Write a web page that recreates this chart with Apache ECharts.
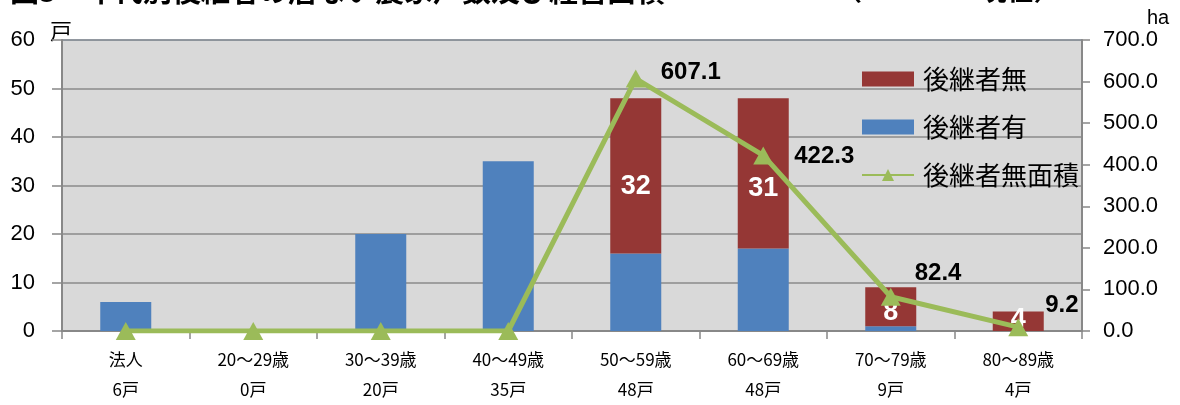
<!DOCTYPE html>
<html><head><meta charset="utf-8">
<script src="https://cdn.jsdelivr.net/npm/echarts@6/dist/echarts.min.js"></script>
<style>html,body{margin:0;padding:0;background:#fff}#c{width:1180px;height:405px}</style>
</head><body><div id="c"></div>
<script>
var categories = ['法人','20～29歳','30～39歳','40～49歳','50～59歳','60～69歳','70～79歳','80～89歳'];
var totalLabels = ['6戸','0戸','20戸','35戸','48戸','48戸','9戸','4戸'];
var withSuccessor = [6, 0, 20, 35, 16, 17, 1, 0];
var withoutSuccessor = [0, 0, 0, 0, 32, 31, 8, 4];
var areaWithout = [0, 0, 0, 0, 607.1, 422.3, 82.4, 9.2];
var leftTicks = [0, 60, 10];
var rightTicks = [0, 700, 100];

// label placement tweaks (style only)
var areaLabelOffsets = [[0,0],[0,0],[0,0],[0,0],[15,-6],[21,1],[14,-23],[17,-22]];
var barLabelOffsets = [[0,0],[0,0],[0,0],[0,0],[0,11],[0,15],[0,6],[0,-2]];

var FONT = '"Noto Sans CJK JP","Noto Sans",sans-serif';
var NUMFONT = '"Liberation Sans",sans-serif';
var chart = echarts.init(document.getElementById('c'));
chart.setOption({
  animation: false,
  textStyle: {fontFamily: FONT},
  grid: {left: 62, right: 98, top: 40, bottom: 72, show: true, backgroundColor: '#d9d9d9', borderWidth: 1, borderColor: '#5b8bc6'},
  legend: {
    orient: 'vertical', right: 96, top: 61, itemGap: 22, itemWidth: 52, itemHeight: 15,
    data: [{name: '後継者無', icon: 'rect'}, {name: '後継者有', icon: 'rect'}, {name: '後継者無面積'}],
    textStyle: {fontSize: 26, color: '#000', fontFamily: FONT, padding: [0, 0, 0, 4]}
  },
  graphic: [
    {type: 'text', left: 10, top: -24, style: {text: '図3　年代別後継者の居ない農家戸数及び経営面積', font: 'bold 29px ' + FONT, fill: '#000'}},
    {type: 'text', left: 835, top: -24, style: {text: '（H28.12.1現在）', font: 'bold 27px ' + FONT, fill: '#000'}},
    {type: 'text', left: 50, top: 20, style: {text: '戸', font: '22px ' + FONT, fill: '#000'}},
    {type: 'text', left: 1147, top: 8, style: {text: 'ha', font: '20px ' + NUMFONT, fill: '#000'}}
  ],
  xAxis: {
    type: 'category', data: categories,
    axisLine: {lineStyle: {color: '#888', width: 2}},
    axisTick: {show: true, alignWithLabel: false, length: 8, lineStyle: {color: '#888', width: 1.5}},
    axisLabel: {
      margin: 14, color: '#000', fontSize: 17, lineHeight: 30,
      formatter: function (v, i) { return v + '\n' + totalLabels[i]; }
    }
  },
  yAxis: [
    {type: 'value', min: leftTicks[0], max: leftTicks[1], interval: leftTicks[2],
     axisLine: {show: true, lineStyle: {color: '#888', width: 2}},
     axisTick: {show: true, length: 10, lineStyle: {color: '#888', width: 1.5}},
     splitLine: {lineStyle: {color: '#8a8a8a', width: 1.5}},
     axisLabel: {color: '#000', fontSize: 22, margin: 27, fontFamily: NUMFONT}},
    {type: 'value', min: rightTicks[0], max: rightTicks[1], interval: rightTicks[2],
     axisLine: {show: true, lineStyle: {color: '#888', width: 2}},
     axisTick: {show: true, length: 8, lineStyle: {color: '#888', width: 1.5}},
     splitLine: {show: false},
     axisLabel: {color: '#000', fontSize: 22, margin: 21, fontFamily: NUMFONT,
       formatter: function (v) { return v.toFixed(1); }}}
  ],
  series: [
    {name: '後継者有', type: 'bar', stack: 'a', data: withSuccessor, barWidth: 51,
     itemStyle: {color: '#4f81bd'}},
    {name: '後継者無', type: 'bar', stack: 'a', barWidth: 51,
     data: withoutSuccessor.map(function (v, i) {
       return {value: v, label: {offset: barLabelOffsets[i]}};
     }),
     itemStyle: {color: '#953735'},
     label: {show: true, position: 'inside', color: '#fff', fontWeight: 'bold', fontSize: 27,
       fontFamily: NUMFONT,
       formatter: function (p) { return p.value ? String(p.value) : ''; }}},
    {name: '後継者無面積', type: 'line', yAxisIndex: 1,
     data: areaWithout.map(function (v, i) {
       return {value: v, label: {offset: areaLabelOffsets[i]}};
     }),
     symbol: 'triangle', symbolSize: [20, 18],
     lineStyle: {color: '#9bbb59', width: 5}, itemStyle: {color: '#9bbb59'},
     label: {show: true, position: 'right', distance: 0, color: '#000', fontWeight: 'bold', fontSize: 24,
       fontFamily: NUMFONT,
       formatter: function (p) { return p.value ? p.value.toFixed(1) : ''; }}}
  ]
});
</script></body></html>
